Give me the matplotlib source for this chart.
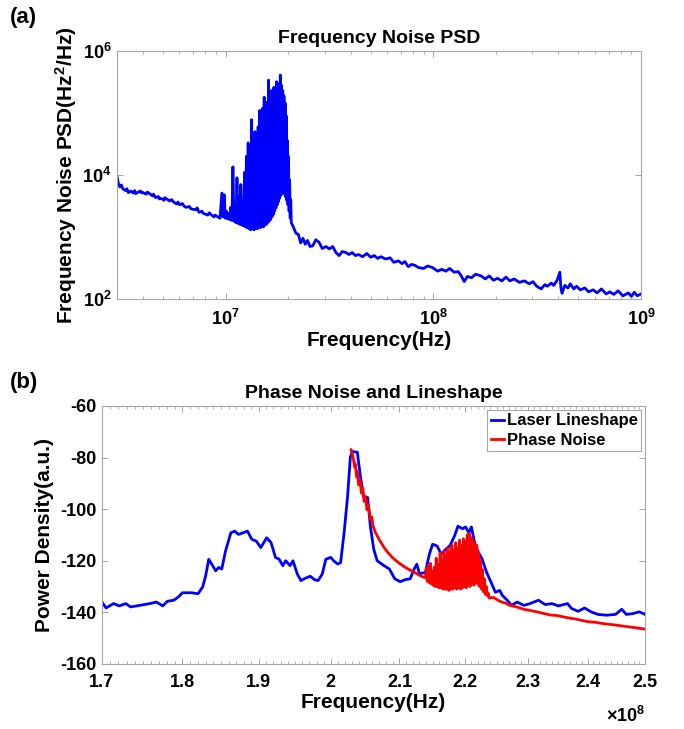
import numpy as np
import matplotlib
matplotlib.use('Agg')
import matplotlib.pyplot as plt
from matplotlib.ticker import FixedLocator, NullLocator, NullFormatter

plt.rcParams['font.family'] = ['Liberation Sans', 'DejaVu Sans']
plt.rcParams['font.weight'] = 'bold'
plt.rcParams['axes.unicode_minus'] = False
plt.rcParams['mathtext.fontset'] = 'custom'
plt.rcParams['mathtext.rm'] = 'Liberation Sans:bold'
plt.rcParams['mathtext.it'] = 'Liberation Sans:bold'
plt.rcParams['mathtext.bf'] = 'Liberation Sans:bold'
plt.rcParams['mathtext.sf'] = 'Liberation Sans:bold'

# ---- (a) frequency noise PSD, Hz and Hz^2/Hz ----
left_f = [3.0e6, 3.05e6, 3.1e6, 3.15e6, 3.2e6, 3.3e6, 3.35e6, 3.4e6, 3.5e6, 3.6e6,
          3.65e6, 3.7e6, 3.8e6, 3.9e6, 3.95e6, 4.0e6, 4.15e6, 4.2e6, 4.3e6, 4.45e6,
          4.5e6, 4.6e6, 4.75e6, 4.8e6, 4.9e6, 5.05e6, 5.1e6, 5.2e6, 5.4e6, 5.5e6,
          5.6e6, 5.8e6, 5.9e6, 6.0e6, 6.2e6, 6.3e6, 6.45e6, 6.7e6, 6.8e6, 6.95e6,
          7.2e6, 7.3e6, 7.45e6, 7.7e6, 7.8e6, 7.95e6, 8.2e6, 8.35e6, 8.5e6, 8.8e6,
          8.9e6, 9.1e6, 9.4e6]
left_psd = [9500, 7200, 6400, 6900, 6000, 5600, 6000, 5200, 5500, 5100,
            5600, 5000, 5300, 5500, 5100, 5200, 4900, 5300, 5000, 4600,
            4900, 4300, 4500, 4100, 4200, 3900, 4300, 4100, 3800, 4000,
            3700, 3400, 3650, 3300, 3450, 3150, 3000, 3100, 2850, 2800,
            2750, 2950, 2500, 2600, 2400, 2350, 2250, 2450, 2300, 2100,
            2250, 2150, 2000]

# burst between 10 and 20 MHz: spike tops and the floor between them (MHz)
peak_mhz = [9.6, 9.85, 10.1, 10.35, 10.6, 10.85, 11.1, 11.35, 11.6, 11.85,
            12.1, 12.35, 12.6, 12.85, 13.1, 13.35, 13.6, 13.85, 14.1, 14.35,
            14.6, 14.85, 15.1, 15.35, 15.6, 15.85, 16.1, 16.35, 16.6, 16.85,
            17.1, 17.35, 17.6, 17.85, 18.1, 18.35, 18.6, 18.85, 19.1, 19.35,
            19.6, 19.85, 20.1, 20.35, 20.6]
peak_psd = [5100, 4800, 2600, 2400, 3000, 13500, 3200, 9000, 4500, 7000,
            4000, 11000, 20000, 33000, 14000, 78000, 30000, 50000, 38000, 60000,
            1.1e5, 65000, 1.2e5, 1.8e5, 1.0e5, 1.5e5, 3.4e5, 2.0e5, 2.3e5, 2.0e5,
            2.6e5, 2.2e5, 3.2e5, 2.7e5, 3.0e5, 4.1e5, 2.8e5, 2.3e5, 1.9e5, 1.45e5,
            90000, 36000, 20000, 8300, 4000]
floor_mhz = [9.725, 9.975, 10.225, 10.475, 10.725, 10.975, 11.225, 11.475, 11.725, 11.975,
             12.225, 12.475, 12.725, 12.975, 13.225, 13.475, 13.725, 13.975, 14.225, 14.475,
             14.725, 14.975, 15.225, 15.475, 15.725, 15.975, 16.225, 16.475, 16.725, 16.975,
             17.225, 17.475, 17.725, 17.975, 18.225, 18.475, 18.725, 18.975, 19.225, 19.475,
             19.725, 19.975, 20.225, 20.475, 20.725]
floor_psd = [2100, 2000, 1950, 1900, 1850, 1800, 1700, 1650, 1600, 1550,
             1500, 1450, 1400, 1350, 1300, 1350, 1300, 1400, 1350, 1450,
             1400, 1500, 1450, 1550, 1600, 1700, 1800, 1900, 2100, 2300,
             2600, 2900, 3300, 3700, 4200, 4700, 5100, 5300, 4900, 4400,
             3900, 3300, 2600, 2000, 1700]

right_f = [2.12e7, 2.18e7, 2.24e7, 2.30e7, 2.36e7, 2.42e7, 2.48e7, 2.55e7, 2.63e7, 2.72e7,
           2.82e7, 2.92e7, 3.05e7, 3.16e7, 3.28e7, 3.40e7, 3.52e7, 3.65e7, 3.80e7, 3.93e7,
           4.07e7, 4.22e7, 4.37e7, 4.57e7, 4.79e7, 5.0e7, 5.2e7, 5.4e7, 5.6e7, 5.9e7,
           6.2e7, 6.46e7, 6.8e7, 7.08e7, 7.3e7, 7.59e7, 7.85e7, 8.13e7, 8.5e7, 9.0e7,
           9.4e7, 9.93e7, 1.05e8, 1.10e8, 1.15e8, 1.20e8, 1.26e8, 1.32e8, 1.36e8, 1.41e8,
           1.46e8, 1.53e8, 1.60e8, 1.70e8, 1.78e8, 1.86e8, 1.95e8, 2.04e8, 2.14e8, 2.24e8,
           2.34e8, 2.45e8, 2.6e8, 2.75e8, 2.9e8, 3.02e8, 3.15e8, 3.31e8, 3.45e8, 3.55e8,
           3.7e8, 3.8e8, 3.95e8, 4.07e8, 4.12e8, 4.17e8, 4.3e8, 4.45e8, 4.57e8, 4.75e8,
           4.9e8, 5.1e8, 5.37e8, 5.6e8, 5.89e8, 6.15e8, 6.46e8, 6.8e8, 7.08e8, 7.4e8,
           7.76e8, 8.2e8, 8.7e8, 9.0e8, 9.3e8, 9.6e8, 1.0e9]
right_psd = [1450, 1150, 1100, 800, 950, 760, 880, 700, 720, 900,
             820, 650, 700, 640, 700, 560, 500, 580, 560, 520,
             560, 500, 520, 480, 540, 470, 500, 450, 480, 440,
             460, 390, 410, 370, 400, 330, 360, 350, 320, 310,
             340, 320, 280, 300, 280, 310, 270, 275, 240, 190,
             230, 220, 250, 235, 210, 235, 200, 215, 195, 225,
             195, 210, 185, 195, 175, 190, 160, 145, 170, 160,
             180, 165, 200, 270, 150, 123, 165, 150, 175, 145,
             160, 140, 150, 130, 140, 125, 145, 120, 130, 118,
             135, 112, 125, 110, 128, 112, 120]

# ---- (b) lineshape and phase noise, frequency in units of 1e8 Hz ----
shape_f = [1.700, 1.705, 1.714, 1.721, 1.729, 1.735, 1.759, 1.767, 1.775, 1.781,
           1.789, 1.795, 1.800, 1.812, 1.820, 1.826, 1.830, 1.834, 1.839, 1.843,
           1.847, 1.851, 1.856, 1.863, 1.868, 1.873, 1.879, 1.885, 1.891, 1.897,
           1.903, 1.911, 1.917, 1.923, 1.928, 1.933, 1.937, 1.943, 1.947, 1.953,
           1.958, 1.964, 1.971, 1.977, 1.982, 1.988, 1.993, 2.000, 2.004, 2.010,
           2.014, 2.019, 2.024, 2.028, 2.031, 2.035, 2.038, 2.042, 2.047, 2.053,
           2.057, 2.062, 2.067, 2.077, 2.085, 2.093, 2.101, 2.109, 2.116, 2.122,
           2.126, 2.130, 2.139, 2.145, 2.150, 2.157, 2.163, 2.170, 2.177, 2.184,
           2.189, 2.196, 2.201, 2.206, 2.210, 2.215, 2.220, 2.227, 2.234, 2.241,
           2.248, 2.255, 2.259, 2.267, 2.274, 2.283, 2.294, 2.304, 2.318, 2.329,
           2.340, 2.351, 2.366, 2.373, 2.384, 2.395, 2.406, 2.418, 2.433, 2.448,
           2.459, 2.467, 2.478, 2.490, 2.500]
shape_db = [-136.0, -138.3, -136.6, -137.5, -136.6, -137.9, -136.6, -136.0, -137.5, -135.7,
            -135.3, -134.0, -132.4, -132.4, -132.8, -130.2, -125.8, -119.4, -121.9, -123.9,
            -122.6, -123.2, -116.2, -109.2, -108.5, -109.8, -109.2, -108.5, -111.7, -112.4,
            -114.9, -111.1, -113.0, -118.7, -119.4, -121.9, -120.0, -121.9, -120.0, -125.1,
            -127.7, -126.8, -126.0, -127.3, -127.7, -125.1, -119.4, -118.7, -120.0, -121.3,
            -120.7, -109.2, -95.1, -79.8, -77.6, -77.9, -77.9, -86.2, -95.1, -95.5,
            -106.6, -115.6, -120.0, -121.9, -123.2, -127.0, -128.1, -127.3, -127.0, -123.2,
            -121.3, -125.1, -124.5, -117.5, -113.6, -114.3, -117.5, -115.6, -114.0, -110.2,
            -106.6, -107.6, -106.9, -109.2, -106.9, -113.0, -116.2, -119.4, -124.5, -128.3,
            -132.2, -131.5, -133.4, -135.3, -137.3, -136.0, -137.3, -136.6, -135.3, -137.0,
            -136.6, -137.5, -136.6, -138.5, -139.6, -138.3, -139.8, -140.8, -141.1, -140.8,
            -138.8, -140.8, -140.5, -139.8, -140.8]

phase_f = [2.029, 2.032, 2.034, 2.035, 2.037, 2.038, 2.040, 2.042, 2.044, 2.046,
           2.048, 2.050, 2.052, 2.054, 2.057, 2.059, 2.061, 2.064, 2.070, 2.077,
           2.083, 2.089, 2.095, 2.102, 2.109, 2.117, 2.126, 2.132, 2.1375,
           2.1390, 2.1405, 2.1420, 2.1435, 2.1450, 2.1465, 2.1480, 2.1495, 2.1510, 2.1525,
           2.1540, 2.1555, 2.1570, 2.1585, 2.1600, 2.1615, 2.1630, 2.1645, 2.1660, 2.1675,
           2.1690, 2.1705, 2.1720, 2.1735, 2.1750, 2.1765, 2.1780, 2.1795, 2.1810, 2.1825,
           2.1840, 2.1855, 2.1870, 2.1885, 2.1900, 2.1915, 2.1930, 2.1945, 2.1960, 2.1975,
           2.1990, 2.2005, 2.2020, 2.2035, 2.2050, 2.2065, 2.2080, 2.2095, 2.2110, 2.2125,
           2.2140, 2.2155, 2.2170, 2.2185, 2.2200, 2.2215, 2.2230, 2.2245, 2.2260, 2.2275,
           2.2290, 2.2305, 2.2320, 2.2335, 2.2350, 2.2365, 2.2380,
           2.245, 2.252, 2.258, 2.264, 2.270, 2.282, 2.294, 2.305, 2.315, 2.326,
           2.337, 2.348, 2.358, 2.369, 2.380, 2.390, 2.400, 2.412, 2.425, 2.436,
           2.448, 2.460, 2.471, 2.485, 2.500]
phase_db = [-77.0, -79.8, -83.6, -82.4, -87.5, -85.5, -90.6, -88.7, -93.8, -91.9,
            -97.0, -95.1, -100.2, -98.3, -104.0, -103.0, -106.5, -108.8, -111.8, -114.8,
            -116.9, -118.6, -120.0, -121.4, -122.6, -123.8, -125.0, -125.9, -126.5,
            -126.5, -123.0, -128.0, -122.0, -128.5, -121.0, -129.0, -124.0, -129.5, -122.5,
            -130.0, -119.0, -130.0, -121.5, -130.5, -117.0, -130.5, -120.0, -131.0, -116.5,
            -131.0, -118.5, -131.0, -115.0, -131.5, -117.0, -131.0, -114.0, -131.0, -116.0,
            -130.5, -113.0, -131.0, -115.0, -130.5, -112.0, -131.0, -114.0, -130.5, -111.5,
            -130.0, -112.5, -130.5, -110.0, -129.5, -109.5, -130.0, -111.0, -129.0, -112.0,
            -129.5, -113.5, -128.5, -114.0, -129.0, -117.0, -130.0, -120.0, -131.0, -123.5,
            -132.0, -127.0, -133.0, -130.0, -133.5, -132.5, -134.5,
            -134.2, -135.3, -136.0, -136.4, -137.2, -137.9, -138.8, -139.3, -139.8, -140.4,
            -141.0, -141.2, -141.7, -142.2, -142.6, -143.1, -143.6, -143.8, -144.3, -144.6,
            -144.9, -145.3, -145.6, -146.0, -146.5]

blue = '#0000ff'
red = '#ff0000'
grey = '#a6a6a6'

fig = plt.figure(figsize=(6.84, 7.29), dpi=100)

# ---------------- (a) ----------------
ax1 = fig.add_axes([0.171, 0.590, 0.766, 0.340])
burst_f = np.ravel(np.column_stack([peak_mhz, floor_mhz])) * 1e6
burst_psd = np.ravel(np.column_stack([peak_psd, floor_psd]))
psd_f = np.concatenate([left_f, burst_f, right_f])
psd_v = np.concatenate([left_psd, burst_psd, right_psd])
ax1.plot(psd_f, psd_v, color=blue, lw=2.0)
ax1.set_xscale('log')
ax1.set_yscale('log')
ax1.set_xlim(3e6, 1e9)
ax1.set_ylim(1e2, 1e6)
ax1.set_xticks([1e7, 1e8, 1e9])
ax1.set_xticklabels(['10$^{7}$', '10$^{8}$', '10$^{9}$'])
ax1.set_yticks([1e2, 1e4, 1e6])
ax1.set_yticklabels(['10$^{2}$', '10$^{4}$', '10$^{6}$'])
ax1.yaxis.set_minor_locator(NullLocator())
ax1.xaxis.set_minor_formatter(NullFormatter())
ax1.set_title('Frequency Noise PSD', fontsize=14, fontweight='bold', pad=6)
ax1.set_xlabel('Frequency(Hz)', fontsize=15, fontweight='bold', labelpad=2)
ax1.set_ylabel('Frequency Noise PSD(Hz$^{2}$/Hz)', fontsize=15, fontweight='bold')
ax1.yaxis.set_label_coords(-0.072, 0.5)

# ---------------- (b) ----------------
ax2 = fig.add_axes([0.149, 0.0892, 0.794, 0.354])
ax2.plot(shape_f, shape_db, color=blue, lw=2, label='Laser Lineshape')
ax2.plot(phase_f, phase_db, color=red, lw=2, label='Phase Noise')
ax2.set_xscale('log')
ax2.set_xlim(1.7, 2.5)
ax2.set_ylim(-160, -60)
major_x = [1.7, 1.8, 1.9, 2.0, 2.1, 2.2, 2.3, 2.4, 2.5]
ax2.xaxis.set_major_locator(FixedLocator(major_x))
ax2.set_xticklabels(['1.7', '1.8', '1.9', '2', '2.1', '2.2', '2.3', '2.4', '2.5'])
ax2.xaxis.set_minor_locator(FixedLocator(np.arange(1.70, 2.505, 0.01)))
ax2.xaxis.set_minor_formatter(NullFormatter())
ax2.set_yticks([-60, -80, -100, -120, -140, -160])
ax2.set_title('Phase Noise and Lineshape', fontsize=14, fontweight='bold', pad=6)
ax2.set_xlabel('Frequency(Hz)', fontsize=15, fontweight='bold', labelpad=2)
ax2.set_ylabel('Power Density(a.u.)', fontsize=15, fontweight='bold')
ax2.yaxis.set_label_coords(-0.088, 0.5)
ax2.text(1.0, -0.2, '\u00d710$^{8}$', transform=ax2.transAxes, ha='right', va='center',
         fontsize=13)
leg = ax2.legend(loc='upper right', fontsize=12, handlelength=0.8, handletextpad=0.15,
                 borderpad=0.2, labelspacing=0.25, borderaxespad=0.25, fancybox=False,
                 framealpha=1)
leg.get_frame().set_edgecolor(grey)
leg.get_frame().set_linewidth(0.8)

for ax in (ax1, ax2):
    for sp in ax.spines.values():
        sp.set_color(grey)
        sp.set_linewidth(0.8)
    ax.tick_params(which='both', direction='in', top=True, right=True, colors=grey,
                   labelcolor='black', labelsize=13)
    ax.tick_params(which='major', length=4, width=0.7, pad=7)
    ax.tick_params(which='minor', length=2, width=0.6)
    ax.tick_params(axis='y', which='major', pad=4)
    for lab in ax.get_xticklabels() + ax.get_yticklabels():
        lab.set_fontweight('bold')

fig.text(0.015, 0.99, '(a)', fontsize=16, fontweight='bold', va='top')
fig.text(0.015, 0.49, '(b)', fontsize=16, fontweight='bold', va='top')

fig.savefig('out.png', dpi=100)
